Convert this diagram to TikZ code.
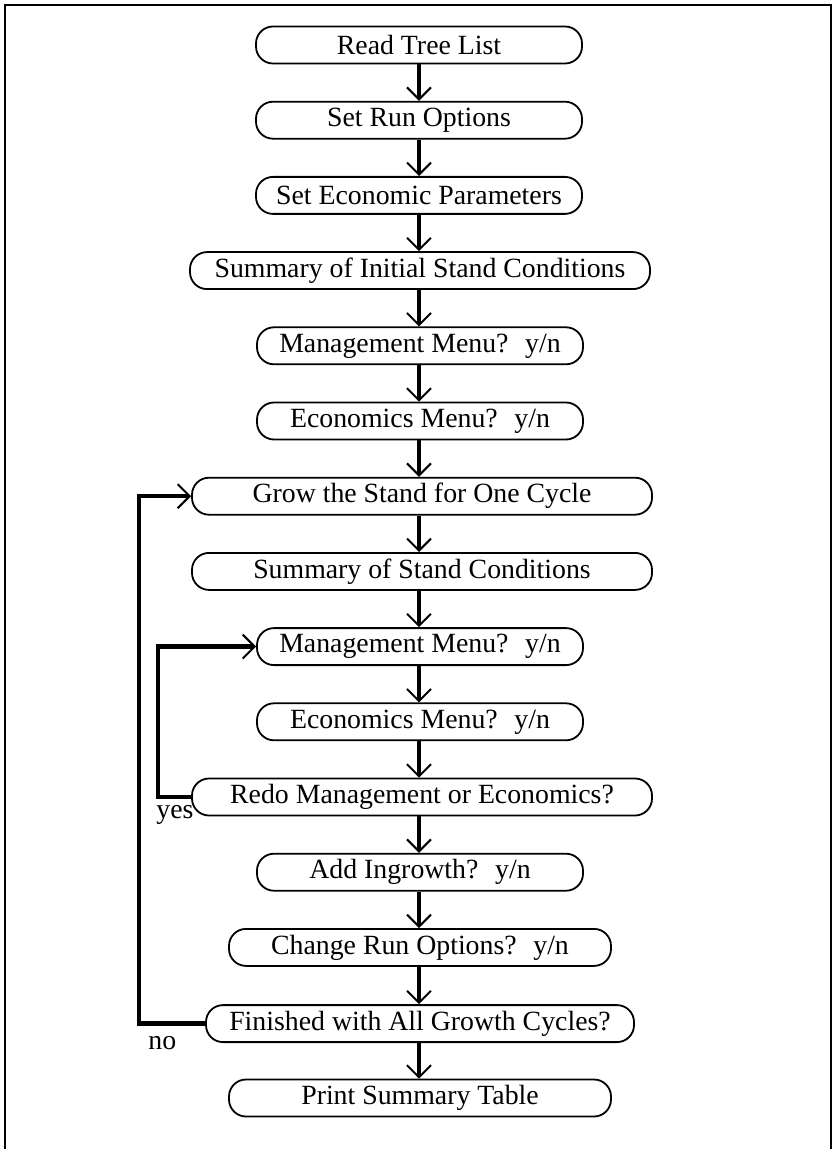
\documentclass[tikz,border=0pt]{standalone}
\usepackage{fontspec}
\setmainfont{Liberation Serif}
\usetikzlibrary{arrows.meta}

\newlength{\du}
\setlength{\du}{0.5pt}

\tikzset{
  stepbox/.style={draw, line width=0.9pt, rounded corners=8.5pt, minimum height=18.5pt,
    inner sep=0pt, fill=white, font=\fontsize{13.9}{16}\selectfont},
  narrowbox/.style={stepbox, minimum width=326\du},
  midbox/.style={stepbox, minimum width=382\du},
  widebox/.style={stepbox, minimum width=460\du},
  flow/.style={line width=2pt, -{Straight Barb[length=6pt, width=12pt, line width=1pt]}},
  loopline/.style={flow, line width=2.2pt},
  answer/.style={inner sep=0pt, font=\fontsize{13.9}{16}\selectfont},
  frame/.style={line width=1pt},
}
\newcommand{\yn}{\hspace{0.6em}y/n}

\begin{document}
\begin{tikzpicture}
\pgftransformxscale{1.000000}
\pgftransformyscale{-1.000000}
\useasboundingbox (0\du,0\du) rectangle (833\du,1149\du);
\fill[white] (0\du,0\du) rectangle (833\du,1149\du);
\draw[frame] (5\du,1152\du)--(5\du,5\du)--(831\du,5\du)--(831\du,1152\du);
% setup steps
\node[narrowbox] (read) at (419\du,45.0\du){Read Tree List};
\node[narrowbox] (runopt) at (419\du,120.2\du){Set Run Options};
\node[narrowbox] (econpar) at (419\du,195.4\du){Set Economic Parameters};
\node[widebox] (initsum) at (420\du,270.6\du){Summary of Initial Stand Conditions};
\node[narrowbox] (mgmtA) at (420\du,345.8\du){Management Menu?\yn};
\node[narrowbox] (econA) at (420\du,421.0\du){Economics Menu?\yn};
% growth cycle
\node[widebox] (grow) at (422\du,496.2\du){Grow the Stand for One Cycle};
\node[widebox] (standsum) at (422\du,571.4\du){Summary of Stand Conditions};
\node[narrowbox] (mgmtB) at (420\du,646.6\du){Management Menu?\yn};
\node[narrowbox] (econB) at (420\du,721.8\du){Economics Menu?\yn};
\node[widebox] (redo) at (422\du,797.0\du){Redo Management or Economics?};
\node[narrowbox] (ingrowth) at (420\du,872.2\du){Add Ingrowth?\yn};
\node[midbox] (chgopt) at (420\du,947.4\du){Change Run Options?\yn};
\node[stepbox, minimum width=428\du] (finished) at (420\du,1023.6\du){Finished with All Growth Cycles?};
\node[midbox] (printsum) at (420\du,1098.0\du){Print Summary Table};
% straight flow
\foreach \a/\b in {read/runopt, runopt/econpar, econpar/initsum, initsum/mgmtA,
    mgmtA/econA, econA/grow, grow/standsum, standsum/mgmtB, mgmtB/econB,
    econB/redo, redo/ingrowth, ingrowth/chgopt, chgopt/finished, finished/printsum}
  \draw[flow] (\a.south-|read)--(\b.north-|read);
% loops back
\draw[loopline] (redo.west)--++(-33\du,0)|-(mgmtB.west);
\draw[loopline] (finished.west)--++(-66\du,0)|-(grow.west);
\node[answer, anchor=base west] (yes) at (156\du,818\du){yes};
\node[answer, anchor=base west] (no) at (148\du,1049\du){no};
\end{tikzpicture}
\end{document}
